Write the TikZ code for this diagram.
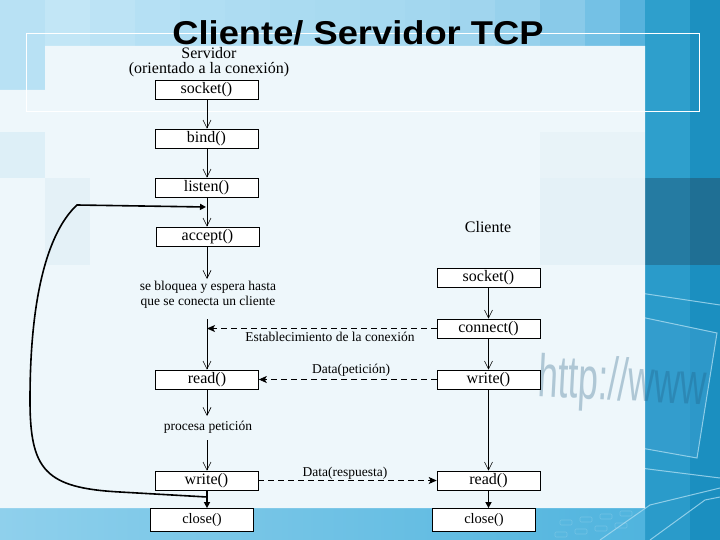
\documentclass[tikz,border=0pt]{standalone}
\usepackage{fontspec}
\setmainfont{Liberation Serif}
\newfontfamily\titlefont{Liberation Sans}
\usetikzlibrary{arrows.meta}
\definecolor{panel}{HTML}{EEF7FB}
\definecolor{tileA}{HTML}{DDEFF7}
\definecolor{tileB}{HTML}{E4F1F7}
\definecolor{rimline}{HTML}{A9DBF0}
\definecolor{screenblue}{HTML}{3A9FD0}
\definecolor{urldark}{HTML}{1F5A80}
\tikzset{
  box/.style={draw, fill=white, line width=0.6pt, minimum width=103pt, minimum height=19pt,
              inner sep=0pt, font=\fontsize{16}{16}\selectfont},
  closebox/.style={draw, fill=white, line width=0.8pt, minimum width=103pt, minimum height=23pt,
              inner sep=0pt, font=\fontsize{14.5}{14.5}\selectfont},
  lbl/.style={inner sep=1pt, font=\fontsize{13.5}{15}\selectfont, align=center},
  hdr/.style={inner sep=1pt, font=\fontsize{16}{16}\selectfont},
  flow/.style={line width=0.6pt, -{Straight Barb[length=8pt,width=8pt]}},
  heavy/.style={line width=1.6pt, -{Triangle[length=6pt,width=6pt]}},
  msg/.style={line width=0.7pt, dash pattern=on 6pt off 4pt, -{Stealth[length=8pt,width=7pt,inset=2pt]}},
  laptop/.style={draw=rimline, line width=1pt, opacity=0.8}
}
\begin{document}
\begin{tikzpicture}[x=1pt,y=-1pt]
\useasboundingbox (0,0) rectangle (720,540);
% ---------- background stripes ----------
\foreach \xa/\xb/\cc in {0/45/B8E1F4, 45/90/C2E6F6, 90/135/BCE3F5, 135/180/B5E0F4, 180/225/B0DEF3,
  225/270/ADDCF2, 270/315/AADBF1, 315/360/A8DAF0, 360/405/A6D9F0, 405/450/A3D7EF, 450/495/A0D5EE,
  495/540/97D1EC, 540/585/89CAE9, 585/620/74C1E5, 620/645/57B3DD} {
  \definecolor{tmpc}{HTML}{\cc}
  \fill[tmpc] (\xa,0) rectangle (\xb,540);
}
\foreach \ya/\yb/\ca/\cb in {0/178/2E9FCC/1C90C0, 178/265/257BA2/1F6F94, 265/540/2A9BCA/1B8FC0} {
  \definecolor{tmpa}{HTML}{\ca}\definecolor{tmpb}{HTML}{\cb}
  \fill[tmpa] (645,\ya) rectangle (690,\yb);
  \fill[tmpb] (690,\ya) rectangle (720,\yb);
}
\shade[left color={rgb,255:red,143;green,208;blue,236}, right color={rgb,255:red,80;green,180;blue,222}]
  (0,508) rectangle (645,540);
% ---------- laptop sketch ----------
\fill[screenblue, opacity=0.6] (600,308) -- (717,333) -- (697,458) -- (560,432) -- cycle;
\draw[laptop] (540,278) -- (720,305);
\draw[laptop] (560,300) -- (717,333) -- (697,458) -- (540,430);
\draw[laptop] (640,468) -- (720,478);
\draw[laptop] (600,540) -- (650,505) -- (720,488);
\draw[laptop] (650,540) -- (705,500) -- (720,497);
\foreach \kx/\ky in {560/520, 580/517, 600/514, 620/511, 555/532, 575/529, 595/526, 615/523} {
  \draw[rimline, opacity=0.35, line width=0.6pt, rounded corners=1pt] (\kx,\ky) rectangle ++(12,5);
}
% ---------- light panel ----------
\fill[panel] (45,46) -- (645,46) -- (645,508) -- (0,508) -- (0,90) -- (45,90) -- cycle;
\fill[tileA] (0,132) rectangle (45,178);
\fill[tileB] (45,178) rectangle (90,265);
\fill[tileB] (540,178) rectangle (645,265);
\fill[tileB, opacity=0.6] (540,132) rectangle (645,178);
% url text (faint, seen through the panel)
\node[anchor=base west, rotate=-3, text=urldark, text opacity=0.3, inner sep=0pt,
      font=\titlefont\fontsize{60}{60}\selectfont] (url) at (537,396) {\scalebox{0.6}[1]{http://www}};
% title frame
\draw[white, line width=0.8pt] (26,33) rectangle (699,111);
% title
\node[anchor=base, inner sep=0pt, font=\titlefont\bfseries\fontsize{33}{33}\selectfont] (title)
  at (358,45) {\scalebox{1.1}[1]{Cliente/ Servidor TCP}};
% ---------- server ----------
\node[hdr] (srv) at (209,53) {Servidor};
\node[hdr] (srvsub) at (209,70) {(orientado a la conexión)};
\node[box] (ssock) at (206.5,89.5) {socket()};
\node[box] (sbind) at (206.5,138.5) {bind()};
\node[box] (slisten) at (206.5,187.5) {listen()};
\node[box] (saccept) at (207.5,236.5) {accept()};
\node[lbl] (swait) at (208,295) {se bloquea y espera hasta\\que se conecta un cliente};
\node[box] (sread) at (207,379.5) {read()};
\node[lbl] (sproc) at (208,427) {procesa petición};
\node[box] (swrite) at (206.5,480.5) {write()};
\node[closebox] (sclose) at (202,520) {close()};
% ---------- client ----------
\node[hdr] (cli) at (488,227) {Cliente};
\node[box] (csock) at (488.5,277.5) {socket()};
\node[box] (cconn) at (488.5,328.5) {connect()};
\node[box] (cwrite) at (488.5,379.5) {write()};
\node[box] (cread) at (488.5,480.5) {read()};
\node[closebox] (cclose) at (484,520) {close()};
% ---------- helper coordinates ----------
\coordinate (waitTop) at (207,279);
\coordinate (waitBot) at (207,319);
\coordinate (procTop) at (207,416);
\coordinate (procBot) at (207,440);
\coordinate (estab) at (207,328.5);
\coordinate (loopStart) at (207,497);
\coordinate (loopEnd) at (206,207);
% ---------- server flow ----------
\draw[flow] (ssock.south -| 207,0) -- (sbind.north -| 207,0);
\draw[flow] (sbind.south -| 207,0) -- (slisten.north -| 207,0);
\draw[flow] (slisten.south -| 207,0) -- (saccept.north -| 207,0);
\draw[flow] (saccept.south -| 207,0) -- (waitTop);
\draw[flow] (waitBot) -- (sread.north -| 207,0);
\draw[flow] (sread.south -| 207,0) -- (procTop);
\draw[flow] (procBot) -- (swrite.north -| 207,0);
\draw[heavy] (swrite.south -| 207,0) -- (sclose.north -| 207,0);
% ---------- client flow ----------
\draw[flow] (csock.south) -- (cconn.north);
\draw[flow] (cconn.south) -- (cwrite.north);
\draw[flow] (cwrite.south) -- (cread.north);
\draw[heavy] (cread.south) -- (cread.south |- cclose.north);
% ---------- messages ----------
\draw[msg] (cconn.west) -- (estab);
\node[lbl] (lestab) at (330,337) {Establecimiento de la conexión};
\draw[msg] (cwrite.west) -- (sread.east);
\node[lbl] (lpet) at (351,370) {Data(petición)};
\draw[msg] (swrite.east) -- (cread.west);
\node[lbl] (lresp) at (345,473) {Data(respuesta)};
% ---------- loop back ----------
\draw[heavy] (loopStart) -- (120,492)
  .. controls (45,488) and (30,470) .. (30,400)
  .. controls (30,290) and (50,230) .. (77,205) -- (loopEnd);
\end{tikzpicture}
\end{document}
